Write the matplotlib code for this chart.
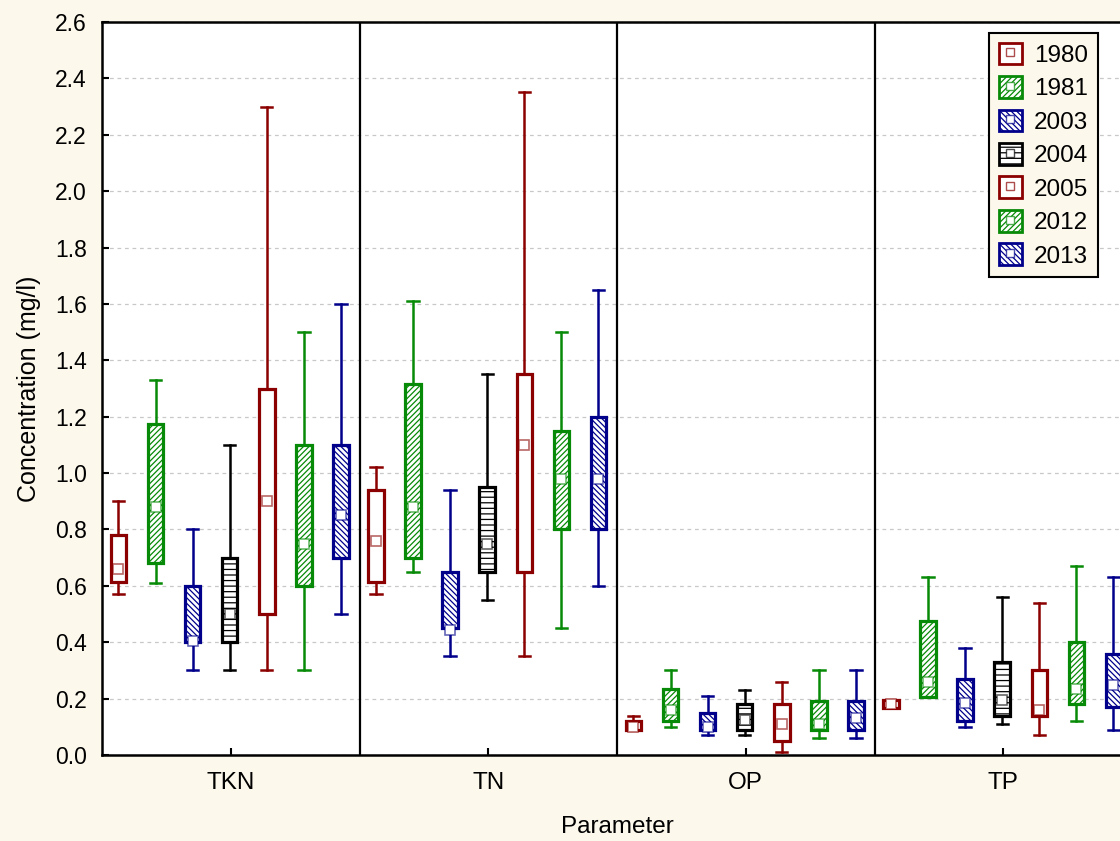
import matplotlib
matplotlib.use('Agg')
import matplotlib.pyplot as plt
from matplotlib.patches import Patch
from matplotlib.lines import Line2D
from matplotlib.colors import to_rgba

# === Data ===
params = ['TKN', 'TN', 'OP', 'TP']
years = ['1980', '1981', '2003', '2004', '2005', '2012', '2013']

# rows = years, columns = params (TKN, TN, OP, TP)
whis_lo = [
    [0.57, 0.57, 0.09, 0.165],
    [0.61, 0.65, 0.10, 0.205],
    [0.30, 0.35, 0.07, 0.10],
    [0.30, 0.55, 0.07, 0.11],
    [0.30, 0.35, 0.01, 0.07],
    [0.30, 0.45, 0.06, 0.12],
    [0.50, 0.60, 0.06, 0.09],
]
box_lo = [
    [0.615, 0.615, 0.09, 0.165],
    [0.68, 0.70, 0.12, 0.205],
    [0.40, 0.45, 0.09, 0.12],
    [0.40, 0.65, 0.09, 0.14],
    [0.50, 0.65, 0.05, 0.14],
    [0.60, 0.80, 0.09, 0.18],
    [0.70, 0.80, 0.09, 0.17],
]
center = [
    [0.66, 0.76, 0.10, 0.18],
    [0.88, 0.88, 0.16, 0.26],
    [0.405, 0.445, 0.10, 0.185],
    [0.50, 0.75, 0.125, 0.195],
    [0.90, 1.10, 0.11, 0.16],
    [0.75, 0.98, 0.11, 0.235],
    [0.85, 0.98, 0.13, 0.25],
]
box_hi = [
    [0.78, 0.94, 0.12, 0.195],
    [1.175, 1.315, 0.235, 0.475],
    [0.60, 0.65, 0.15, 0.27],
    [0.70, 0.95, 0.18, 0.33],
    [1.30, 1.35, 0.18, 0.30],
    [1.10, 1.15, 0.19, 0.40],
    [1.10, 1.20, 0.19, 0.36],
]
whis_hi = [
    [0.90, 1.02, 0.14, 0.195],
    [1.33, 1.61, 0.30, 0.63],
    [0.80, 0.94, 0.21, 0.38],
    [1.10, 1.35, 0.23, 0.56],
    [2.30, 2.35, 0.26, 0.54],
    [1.50, 1.50, 0.30, 0.67],
    [1.60, 1.65, 0.30, 0.63],
]

colors = ['#8B0000', '#078A07', '#00008B', '#000000', '#8B0000', '#078A07', '#00008B']
hatches = ['', '//////', '\\\\\\\\\\\\', '---', '', '//////', '\\\\\\\\\\\\']

bg = '#FDF8EC'
plt.rcParams['font.family'] = ['Liberation Sans', 'DejaVu Sans']
plt.rcParams['hatch.linewidth'] = 0.9

fig = plt.figure(figsize=(11.2, 8.41), dpi=100, facecolor=bg)
ax = fig.add_axes([102 / 1120, 86 / 841, 1030 / 1120, 733 / 841])
ax.set_facecolor('white')

step = 0.144
for i, yr in enumerate(years):
    stats = []
    pos = []
    for j in range(len(params)):
        stats.append(dict(whislo=whis_lo[i][j], q1=box_lo[i][j], med=center[i][j],
                          q3=box_hi[i][j], whishi=whis_hi[i][j], mean=center[i][j],
                          fliers=[]))
        pos.append(j + (i - 3) * step - 0.004)
    c = colors[i]
    res = ax.bxp(stats, positions=pos, widths=0.06, patch_artist=True,
                 showmeans=True, manage_ticks=False,
                 boxprops=dict(facecolor='white', edgecolor=c, linewidth=2.3, hatch=hatches[i]),
                 whiskerprops=dict(color=c, linewidth=1.8),
                 capprops=dict(color=c, linewidth=1.8),
                 medianprops=dict(visible=False),
                 meanprops=dict(marker='s', markersize=7.5, markerfacecolor='white',
                                markeredgecolor=to_rgba(c, 0.6), markeredgewidth=1.2))
    for cap in res['caps']:
        x0, x1 = cap.get_xdata()
        m = (x0 + x1) / 2
        cap.set_xdata([m - 0.022, m + 0.022])

for x in [0.5, 1.5, 2.5]:
    ax.axvline(x, color='black', linewidth=1.6, zorder=1)

ax.set_xlim(-0.5, 3.5)
ax.set_ylim(0, 2.6)
ax.set_yticks([k * 0.2 for k in range(14)])
ax.set_yticklabels(['%.1f' % (k * 0.2) for k in range(14)])
ax.set_xticks(range(len(params)))
ax.set_xticklabels(params)
ax.tick_params(axis='both', direction='in', length=5, width=1.5, colors='black')
ax.tick_params(axis='y', pad=11, labelsize=16.5)
ax.tick_params(axis='x', pad=12, labelsize=17.5)
ax.yaxis.grid(True, linestyle=(0, (3, 3)), color='#C8C8C8', linewidth=0.9)
ax.set_axisbelow(True)
for s in ax.spines.values():
    s.set_linewidth(1.8)

ax.set_ylabel('Concentration (mg/l)', fontsize=18, labelpad=10)
ax.set_xlabel('Parameter', fontsize=17.5, labelpad=16)

handles = []
for i in range(len(years)):
    p = Patch(facecolor='white', edgecolor=colors[i], hatch=hatches[i], linewidth=2)
    m = Line2D([], [], marker='s', markersize=6, linestyle='none', markerfacecolor='white',
               markeredgecolor=to_rgba(colors[i], 0.7))
    handles.append((p, m))
ax.legend(handles, years, loc='upper right', bbox_to_anchor=(1098 / 1120, 808 / 841),
          bbox_transform=fig.transFigure, borderaxespad=0, fontsize=17.5,
          handlelength=0.95, handleheight=1.0, handletextpad=0.5, labelspacing=0.38,
          borderpad=0.4, fancybox=False, framealpha=1, facecolor=bg, edgecolor='black')
leg = ax.get_legend()
leg.get_frame().set_linewidth(1.5)

fig.savefig('out.png', dpi=100, facecolor=bg)
